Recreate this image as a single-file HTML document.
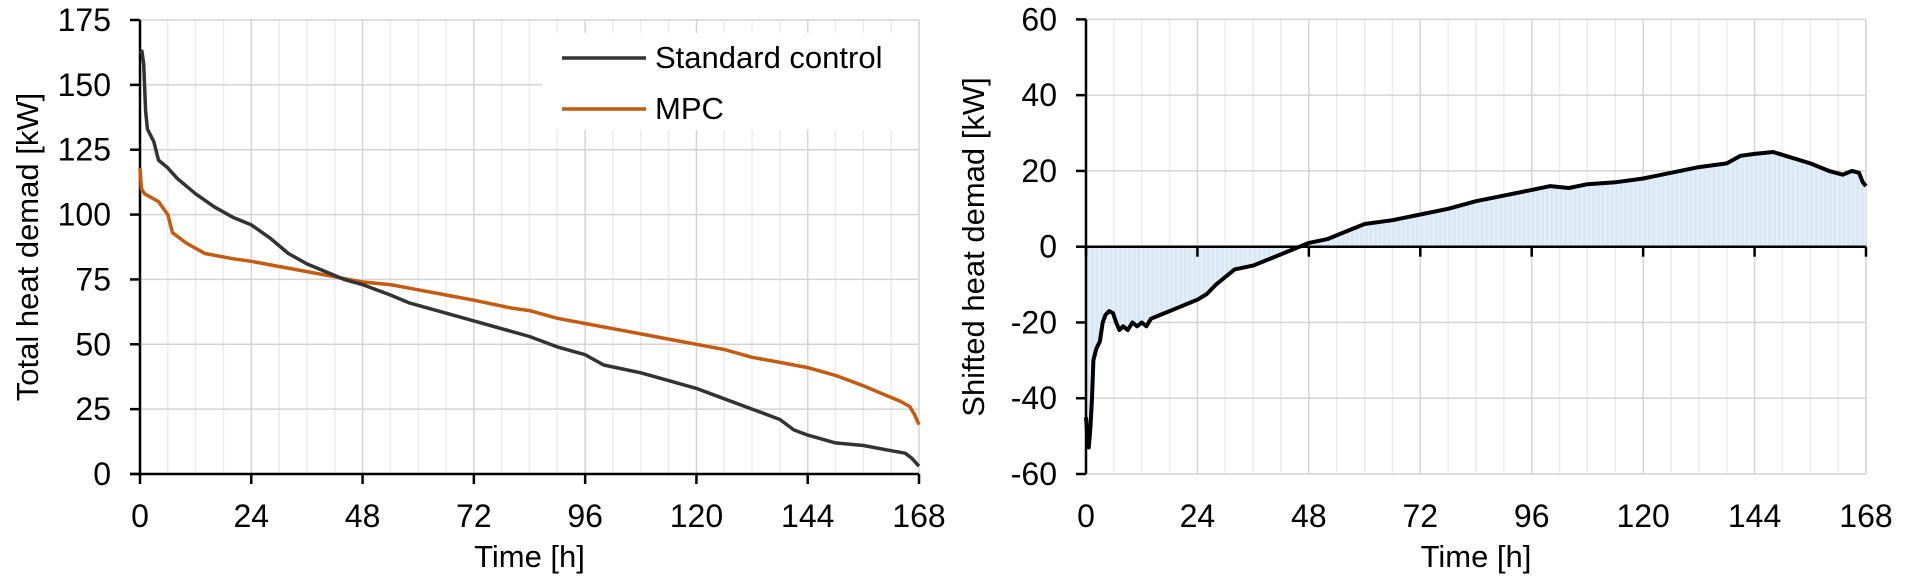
<!DOCTYPE html>
<html><head><meta charset="utf-8"><style>
html,body{margin:0;padding:0;background:#fff;}
svg{display:block;font-family:"Liberation Sans",Arial,sans-serif;}
</style></head><body>
<svg id="s" width="1920" height="583" viewBox="0 0 1920 583" xmlns="http://www.w3.org/2000/svg">
<defs>
<pattern id="st" x="1086" y="0" width="4.64" height="10" patternUnits="userSpaceOnUse">
<rect width="4.64" height="10" fill="#dae8f6"/><rect x="3.6" width="1" height="10" fill="#eef4fb"/>
</pattern>
</defs>
<g id="g"></g>
</svg>
<script>
const g=document.getElementById('g');let h='';
const FS=32;
const L={x0:140,x1:919,y0:474,y1:20,ymax:175};
const lx=t=>L.x0+t*(L.x1-L.x0)/168, ly=v=>L.y0-v*(L.y0-L.y1)/175;
for(let t=6;t<=168;t+=6){h+=`<line x1="${lx(t)}" x2="${lx(t)}" y1="${L.y1}" y2="${L.y0}" stroke="${t%24?'#ececec':'#d4d4d4'}" stroke-width="1.5"/>`;}
for(let v=25;v<=175;v+=25){h+=`<line x1="${L.x0}" x2="${L.x1}" y1="${ly(v)}" y2="${ly(v)}" stroke="#d4d4d4" stroke-width="1.5"/>`;}
for(let v=0;v<=175;v+=25){h+=`<line x1="130" x2="${L.x0}" y1="${ly(v)}" y2="${ly(v)}" stroke="#000" stroke-width="2.5"/><text x="111" y="${ly(v)+11}" font-size="${FS}" text-anchor="end">${v}</text>`;}
for(let t=0;t<=168;t+=24){h+=`<line x1="${lx(t)}" x2="${lx(t)}" y1="${L.y0}" y2="${L.y0+10}" stroke="#000" stroke-width="2.5"/><text x="${lx(t)}" y="527" font-size="${FS}" text-anchor="middle">${t}</text>`;}
h+=`<line x1="${L.x0}" x2="${L.x0}" y1="${L.y1}" y2="${L.y0}" stroke="#000" stroke-width="2.5"/><line x1="130" x2="${L.x1}" y1="${L.y0}" y2="${L.y0}" stroke="#000" stroke-width="2.5"/>`;
const std=[[0,162],[0.4,163],[0.8,158],[1.2,140],[1.6,133],[3,128],[4,121],[6,118],[8,114],[12,108],[16,103],[20,99],[24,96],[28,91],[32,85],[36,81],[40,78],[44,75],[48,73],[54,69],[58,66],[64,63],[72,59],[84,53],[90,49],[96,46],[100,42],[108,39],[114,36],[120,33],[126,29],[132,25],[138,21],[141,17],[144,15],[150,12],[156,11],[162,9],[165,8],[166.5,6],[168,3]];
const mpc=[[0,118],[0.3,110],[1,108],[4,105],[6,100],[7,93],[10,89],[14,85],[20,83],[24,82],[30,80],[36,78],[42,76],[48,74],[54,73],[60,71],[66,69],[72,67],[80,64],[84,63],[90,60],[96,58],[102,56],[108,54],[114,52],[120,50],[126,48],[132,45],[138,43],[144,41],[150,38],[156,34],[160,31],[164,28],[166,26],[167,23],[168,19]];
const P=(d,fx,fy)=>d.map((p,i)=>(i?'L':'M')+fx(p[0]).toFixed(1)+' '+fy(p[1]).toFixed(1)).join(' ');
h+=`<path d="${P(mpc,lx,ly)}" fill="none" stroke="#c55a11" stroke-width="3.5" stroke-linejoin="round"/>`;
h+=`<path d="${P(std,lx,ly)}" fill="none" stroke="#333" stroke-width="3.5" stroke-linejoin="round"/>`;
h+=`<rect x="542" y="33" width="376" height="97" fill="#fff"/>`;
h+=`<line x1="562" x2="646" y1="58" y2="58" stroke="#333" stroke-width="3.5"/><text x="655" y="68" font-size="31">Standard control</text>`;
h+=`<line x1="562" x2="646" y1="109" y2="109" stroke="#c55a11" stroke-width="3.5"/><text x="655" y="119" font-size="31">MPC</text>`;
h+=`<text transform="translate(38,247) rotate(-90)" font-size="31" text-anchor="middle">Total heat demad [kW]</text>`;
h+=`<text x="${(L.x0+L.x1)/2}" y="567" font-size="31" text-anchor="middle">Time [h]</text>`;
const R={x0:1086,x1:1866,y0:474,y1:19.4};
const rx=t=>R.x0+t*(R.x1-R.x0)/168, ry=v=>R.y0-(v+60)*(R.y0-R.y1)/120;
for(let t=6;t<=168;t+=6){h+=`<line x1="${rx(t)}" x2="${rx(t)}" y1="${R.y1}" y2="${R.y0}" stroke="${t%24?'#ececec':'#d4d4d4'}" stroke-width="1.5"/>`;}
for(let v=-60;v<=60;v+=20){if(v)h+=`<line x1="${R.x0}" x2="${R.x1}" y1="${ry(v)}" y2="${ry(v)}" stroke="#d4d4d4" stroke-width="1.5"/>`;}
const sh=[[0,-45],[0.3,-50],[0.6,-53],[1,-47],[1.3,-40],[1.6,-30],[2.2,-27],[3,-25],[3.6,-20],[4.2,-18],[5,-17],[5.8,-17.5],[6.5,-20],[7.2,-22],[8,-21],[9,-22],[10,-20],[11,-21],[12,-20],[13,-21],[14,-19],[16,-18],[18,-17],[20,-16],[22,-15],[24,-14],[26,-12.5],[28,-10],[30,-8],[32,-6],[36,-5],[40,-3],[44,-1],[46,0],[48,1],[52,2],[56,4],[60,6],[66,7],[72,8.5],[78,10],[84,12],[90,13.5],[96,15],[100,16],[104,15.5],[108,16.5],[114,17],[120,18],[126,19.5],[132,21],[138,22],[141,24],[144,24.5],[148,25],[152,23.5],[156,22],[160,20],[163,19],[165,20],[166.5,19.5],[167.3,17],[168,16]];
h+=`<path d="M${rx(0)} ${ry(0)} ${P(sh,rx,ry).replace('M','L')} L${rx(168)} ${ry(0)} Z" fill="url(#st)"/>`;
for(let v=-60;v<=60;v+=20){h+=`<line x1="1076" x2="${R.x0}" y1="${ry(v)}" y2="${ry(v)}" stroke="#000" stroke-width="2.5"/><text x="1057" y="${ry(v)+11}" font-size="${FS}" text-anchor="end">${v}</text>`;}
for(let t=0;t<=168;t+=24){h+=`<line x1="${rx(t)}" x2="${rx(t)}" y1="${ry(0)}" y2="${ry(0)+10}" stroke="#000" stroke-width="2.5"/><text x="${rx(t)}" y="527" font-size="${FS}" text-anchor="middle">${t}</text>`;}
h+=`<line x1="${R.x0}" x2="${R.x0}" y1="${R.y1}" y2="${R.y0}" stroke="#000" stroke-width="2.5"/><line x1="${R.x0}" x2="${R.x1}" y1="${ry(0)}" y2="${ry(0)}" stroke="#000" stroke-width="2.5"/>`;
h+=`<path d="${P(sh,rx,ry)}" fill="none" stroke="#000" stroke-width="4" stroke-linejoin="round"/>`;
h+=`<text transform="translate(984,247) rotate(-90)" font-size="31" text-anchor="middle">Shifted heat demad [kW]</text>`;
h+=`<text x="${(R.x0+R.x1)/2}" y="567" font-size="31" text-anchor="middle">Time [h]</text>`;
g.innerHTML=h;
</script>
</body></html>
